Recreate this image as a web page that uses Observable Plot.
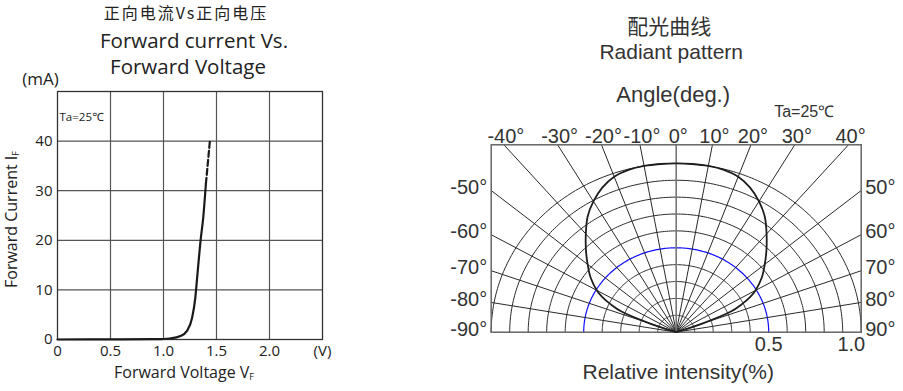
<!DOCTYPE html>
<html>
<head>
<meta charset="utf-8">
<script src="https://cdn.jsdelivr.net/npm/d3@7"></script>
<script src="https://cdn.jsdelivr.net/npm/@observablehq/plot@0.6"></script>
<style>
  body { margin: 0; background: #fff; }
  #wrap { position: relative; width: 903px; height: 391px; overflow: hidden; }
  #left { position: absolute; left: 0; top: 0; }
  #right { position: absolute; left: 420px; top: 0; }
</style>
</head>
<body>
<div id="wrap"><div id="left"></div><div id="right"></div></div>
<script>
// ---------- Left chart: Forward current vs forward voltage ----------
const ivVoltage = [0, 0.3, 0.6, 0.9, 1.0, 1.06, 1.16, 1.22, 1.27, 1.30, 1.32, 1.35, 1.375, 1.40];
const ivCurrent = [0, 0.02, 0.04, 0.08, 0.1, 0.2, 0.7, 1.7, 4.4, 8.4, 13.1, 20, 24.6, 31.4];
const ivDashVoltage = [1.40, 1.4375];
const ivDashCurrent = [31.4, 40];
const vTicks = [0, 0.5, 1, 1.5, 2, 2.5];
const vTickLabels = ["0", "0.5", "1.0", "1.5", "2.0", "(V)"];
const iTicks = [0, 10, 20, 30, 40];
const iTickLabels = ["0", "10", "20", "30", "40"];
const vGrid = [0.5, 1, 1.5, 2];
const iGrid = [10, 20, 30, 40];

const ivSolid = ivVoltage.map((v, i) => ({v, i: ivCurrent[i]}));
const ivDash = ivDashVoltage.map((v, i) => ({v, i: ivDashCurrent[i]}));

const leftFont = "'Open Sans', 'Noto Sans', sans-serif";
const cjkFont = "'Noto Sans CJK SC', sans-serif";
const mid = {textAnchor: "middle", lineAnchor: "middle"};

const left = Plot.plot({
  width: 420, height: 391,
  marginLeft: 57, marginRight: 98, marginTop: 91, marginBottom: 52,
  style: {fontFamily: leftFont, fontSize: "15px", color: "#222", background: "#fff", overflow: "visible"},
  x: {domain: [0, 2.5], ticks: vTicks, tickFormat: (d) => vTickLabels[vTicks.indexOf(d)], tickSize: 0, tickPadding: 6, label: null},
  y: {domain: [0, 50], ticks: iTicks, tickFormat: (d) => iTickLabels[iTicks.indexOf(d)], tickSize: 0, tickPadding: 5, label: null},
  marks: [
    Plot.ruleX(vGrid, {stroke: "#555", strokeWidth: 1.2}),
    Plot.ruleY(iGrid, {stroke: "#555", strokeWidth: 1.2}),
    Plot.frame({stroke: "#333", strokeWidth: 1.3}),
    Plot.line(ivSolid, {x: "v", y: "i", curve: "monotone-x", stroke: "#1a1a1a", strokeWidth: 2.2}),
    Plot.line(ivDash, {x: "v", y: "i", stroke: "#1a1a1a", strokeWidth: 2.2, strokeDasharray: "6,3"}),
    Plot.text(["Ta=25℃"], {frameAnchor: "top-left", textAnchor: "start", lineAnchor: "middle", dx: 2, dy: 26, fontSize: 11.5, fill: "#222"}),
    Plot.text(["(mA)"], {frameAnchor: "top-left", ...mid, dx: -17, dy: -12, fontSize: 17, fill: "#222"}),
    Plot.text(["正向电流Vs正向电压"], {frameAnchor: "top", ...mid, dx: -4, dy: -78, fontSize: 16, fill: "#222", fontFamily: cjkFont}),
    Plot.text(["Forward current Vs."], {frameAnchor: "top", ...mid, dx: 4, dy: -50, fontSize: 20.5, fill: "#222"}),
    Plot.text(["Forward Voltage"], {frameAnchor: "top", ...mid, dx: -2, dy: -24, fontSize: 20.5, fill: "#222"}),
    Plot.text(["Forward Voltage V_F"], {frameAnchor: "bottom", ...mid, dx: -6, dy: 33, fontSize: 16, fill: "#222"}),
    Plot.text(["Forward Current I_F"], {frameAnchor: "left", ...mid, dx: -46, dy: 4, rotate: -90, fontSize: 16, fill: "#222"})
  ]
});
document.getElementById("left").appendChild(left);

// ---------- Right chart: radiant pattern ----------
const patternAngles = [-90, -80, -72, -70, -67.5, -65, -62.5, -60, -55, -50, -45, -40, -35, -30, -25, -20, -15, -10, -5, 0, 5, 10, 15, 20, 25, 30, 35, 40, 45, 50, 55, 60, 62.5, 65, 67.5, 70, 72, 80, 90];
const patternIntensity = [0, 0, 0, 0.15, 0.32, 0.39, 0.45, 0.495, 0.565, 0.625, 0.69, 0.76, 0.835, 0.895, 0.945, 0.98, 0.995, 1.0, 1.0, 1.0, 1.0, 1.0, 0.995, 0.98, 0.945, 0.895, 0.835, 0.76, 0.69, 0.625, 0.565, 0.495, 0.45, 0.39, 0.32, 0.15, 0, 0, 0];
const ringLevels = [0.1, 0.2, 0.3, 0.4, 0.5, 0.6, 0.7, 0.8, 0.9, 1.0];
const highlightRing = 0.5;
const spokeAngles = [-80, -70, -60, -50, -40, -30, -20, -10, 0, 10, 20, 30, 40, 50, 60, 70, 80];
const topLabelAngles = [-40, -30, -20, -10, 0, 10, 20, 30, 40];
const sideLabelAngles = [50, 60, 70, 80, 90];
const intensityTicks = [0.5, 1.0];
const intensityTickLabels = ["0.5", "1.0"];
const yTop = 1.11; // frame height in intensity units

const rad = (a) => a * Math.PI / 180;
function spokeEnd(a) {
  const s = Math.sin(rad(a)), c = Math.cos(rad(a));
  const t = Math.min(Math.abs(s) > 1e-9 ? 1 / Math.abs(s) : Infinity, c > 1e-9 ? yTop / c : Infinity);
  return {x: s * t, y: Math.max(0, c * t), a};
}
const ringPts = [];
for (const r of ringLevels) {
  for (let a = -90; a <= 90; a += 1) ringPts.push({r, x: r * Math.sin(rad(a)), y: r * Math.cos(rad(a))});
}
const spokes = spokeAngles.map(spokeEnd);
const pattern = patternAngles.map((a, i) => ({x: patternIntensity[i] * Math.sin(rad(a)), y: patternIntensity[i] * Math.cos(rad(a))}));
const topLabels = topLabelAngles.map((a) => ({...spokeEnd(a), label: a + "°"}));
const leftLabels = sideLabelAngles.map((a) => ({...spokeEnd(-a), label: "-" + a + "°"}));
const rightLabels = sideLabelAngles.map((a) => ({...spokeEnd(a), label: a + "°"}));
const tickData = intensityTicks.map((v, i) => ({x: v, label: intensityTickLabels[i]}));

const rightFont = "'Liberation Sans', Arial, sans-serif";
const right = Plot.plot({
  width: 483, height: 391,
  marginLeft: 70.7, marginRight: 42.3, marginTop: 144.3, marginBottom: 59.3,
  style: {fontFamily: rightFont, fontSize: "20px", color: "#333", background: "#fff", overflow: "visible"},
  x: {domain: [-1, 1], axis: null},
  y: {domain: [0, yTop], axis: null},
  marks: [
    Plot.line(ringPts.filter(d => d.r !== highlightRing), {x: "x", y: "y", z: "r", stroke: "#2a2a2a", strokeWidth: 1}),
    Plot.line(ringPts.filter(d => d.r === highlightRing), {x: "x", y: "y", stroke: "#1010ff", strokeWidth: 1.2}),
    Plot.link(spokes.filter(d => d.a !== 0), {x1: 0, y1: 0, x2: "x", y2: "y", stroke: "#2a2a2a", strokeWidth: 1}),
    Plot.link(spokes.filter(d => d.a === 0), {x1: 0, y1: 0, x2: "x", y2: "y", stroke: "#777", strokeWidth: 1.6}),
    Plot.frame({stroke: "#666", strokeWidth: 1.5}),
    Plot.line(pattern, {x: "x", y: "y", curve: "catmull-rom", stroke: "#1e1e1e", strokeWidth: 1.8}),
    Plot.text(topLabels, {x: "x", y: "y", text: "label", ...mid, dx: 2, dy: -8, fill: "#333"}),
    Plot.text(leftLabels, {x: "x", y: "y", text: "label", textAnchor: "end", lineAnchor: "middle", dx: -4, dy: -3, fill: "#333"}),
    Plot.text(rightLabels, {x: "x", y: "y", text: "label", textAnchor: "start", lineAnchor: "middle", dx: 4, dy: -3, fill: "#333"}),
    Plot.text(tickData.filter(d => d.x < 1), {x: "x", y: 0, text: "label", ...mid, dy: 12, fill: "#333"}),
    Plot.text(tickData.filter(d => d.x >= 1), {x: "x", y: 0, text: "label", textAnchor: "end", lineAnchor: "middle", dx: 4, dy: 12, fill: "#333"}),
    Plot.text(["Relative intensity(%)"], {frameAnchor: "bottom", ...mid, dx: 2, dy: 40, fontSize: 21, fill: "#333"}),
    Plot.text(["Angle(deg.)"], {frameAnchor: "top", ...mid, dx: -3, dy: -50, fontSize: 22, fill: "#333"}),
    Plot.text(["Ta=25℃"], {frameAnchor: "top", ...mid, dx: 128, dy: -33, fontSize: 16, fill: "#333"}),
    Plot.text(["配光曲线"], {frameAnchor: "top", ...mid, dx: -7, dy: -118, fontSize: 21, fill: "#333", fontFamily: cjkFont}),
    Plot.text(["Radiant pattern"], {frameAnchor: "top", ...mid, dx: -5, dy: -93, fontSize: 21, fill: "#333"})
  ]
});
document.getElementById("right").appendChild(right);

// subscripts for V_F and I_F, spacing for the Chinese title
function subscript(svg, full, base, sub) {
  d3.select(svg).selectAll("text").each(function () {
    if (this.textContent === full) {
      const t = d3.select(this);
      t.text(base);
      t.append("tspan").attr("font-size", "9px").attr("dy", "0.25em").text(sub);
    }
  });
}
subscript(left, "Forward Voltage V_F", "Forward Voltage V", "F");
subscript(left, "Forward Current I_F", "Forward Current I", "F");
d3.select(left).selectAll("text, tspan").each(function () {
  if (this.textContent === "正向电流Vs正向电压") d3.select(this).attr("letter-spacing", "2px").style("letter-spacing", "2px");
});
</script>
</body>
</html>
